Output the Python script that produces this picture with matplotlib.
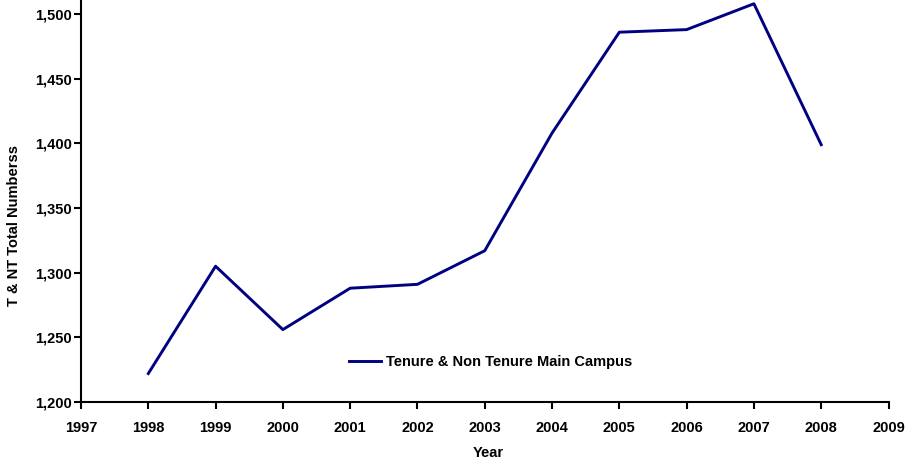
import matplotlib.pyplot as plt
from matplotlib.ticker import FuncFormatter

years = [1998, 1999, 2000, 2001, 2002, 2003, 2004, 2005, 2006, 2007, 2008]
totals = [1222, 1305, 1256, 1288, 1291, 1317, 1408, 1486, 1488, 1508, 1399]

plt.rcParams['font.family'] = ['Liberation Sans', 'DejaVu Sans']
plt.rcParams['font.weight'] = 'bold'

fig = plt.figure(figsize=(9.06, 4.65), dpi=100)
ax = fig.add_axes([0.0894, 0.1355, 0.8913, 0.862])

ax.plot(years, totals, color='#000080', lw=2.1, label='Tenure & Non Tenure Main Campus')

ax.set_xlim(1997, 2009)
ax.set_ylim(1200, 1510)
ax.set_xticks(range(1997, 2010))
ax.set_yticks(range(1200, 1501, 50))
ax.yaxis.set_major_formatter(FuncFormatter(lambda v, p: f'{int(v):,}'))

for s in ['top', 'right']:
    ax.spines[s].set_visible(False)
for s in ['left', 'bottom']:
    ax.spines[s].set_linewidth(1.5)
ax.tick_params(direction='out', length=5, width=1.5, labelsize=10.5)
ax.tick_params(axis='x', pad=9)
ax.tick_params(axis='y', pad=1.5)

ax.set_xlabel('Year', fontsize=10.5, fontweight='bold')
ax.set_ylabel('T & NT Total Numberss', fontsize=10.5, fontweight='bold')
ax.xaxis.set_label_coords(0.504, -0.11)
ax.yaxis.set_label_coords(-0.074, 0.44)

ax.legend(loc='center', bbox_to_anchor=(0.507, 0.10), frameon=False, fontsize=10.5,
          handlelength=2.2, handletextpad=0.3)

fig.savefig('out.png', dpi=100)
